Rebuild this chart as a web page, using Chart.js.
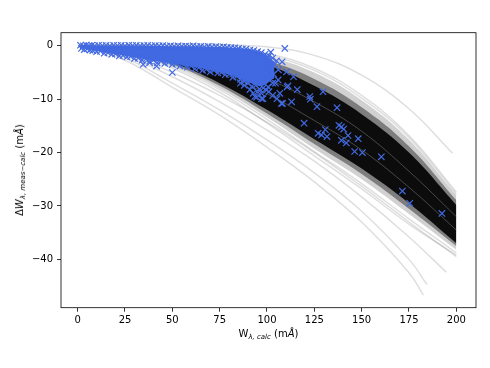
<!DOCTYPE html>
<html>
<head>
<meta charset="utf-8">
<script src="https://cdn.jsdelivr.net/npm/chart.js"></script>
<style>
  body { margin: 0; background: #ffffff; }
  #wrap { position: relative; width: 490px; height: 368px; font-family: 'DejaVu Sans', sans-serif; color: #000; }
  #chart { position: absolute; left: 0; top: 0; }
  .axlab { position: absolute; white-space: nowrap; font-size: 10px; line-height: 1; }
  .axlab sub { font-size: 7px; vertical-align: -2px; }
  #ylab { left: 21px; top: 170px; transform: translate(-50%, -50%) rotate(-90deg); }
  #xlab { left: 268.5px; top: 335px; transform: translate(-50%, -50%); }
</style>
</head>
<body>
<div id="wrap">
  <canvas id="chart" width="490" height="368"></canvas>
  <div class="axlab" id="ylab">Δ<i>W</i><sub><i>λ, meas−calc</i></sub> (m<i>Å</i>)</div>
  <div class="axlab" id="xlab">W<sub><i>λ, calc</i></sub> (m<i>Å</i>)</div>
</div>
<script>
// axes
const xTicks = [0, 25, 50, 75, 100, 125, 150, 175, 200];
const yTicks = [0, -10, -20, -30, -40];

// shared x positions for the curve bundle
const curveX = [1, 25, 50, 75, 100, 125, 150, 175, 200];

// envelope of the dense bundle of grey curves (outer fringe, middle, black core)
const bandOuterTop    = [0, -0.05, -0.25, -0.7, -2.0, -5.0, -10.2, -17.6, -28.0];
const bandMidTop      = [0, -0.1, -0.45, -1.2, -2.8, -6.2, -11.5, -18.8, -28.9];
const bandCoreTop     = [0, -0.2, -0.7, -1.7, -3.6, -7.5, -12.8, -20.0, -29.8];
const bandCoreBottom  = [0, -1.0, -3.2, -7.0, -12.0, -17.5, -23.0, -29.5, -37.0];
const bandMidBottom   = [0, -1.15, -3.5, -7.5, -12.7, -18.4, -24.0, -30.5, -37.5];
const bandOuterBottom = [0, -1.3, -3.8, -8.0, -13.4, -19.3, -25.0, -31.5, -38.2];

// single faint curves along the fringe
const fringeLines = [
  [0, -0.03, -0.15, -0.5, -1.5, -4.2, -9.3, -16.8, -27.4],
  [0, -0.05, -0.2, -0.6, -1.8, -4.6, -9.8, -17.2, -27.8],
  [0, -1.3, -3.9, -8.2, -13.8, -19.8, -25.8, -32.4, -38.8],
  [0, -1.4, -4.2, -8.7, -14.5, -20.6, -26.8, -33.4, -39.2]
];
// lighter streaks seen inside the black core
const streakLines = [
  [0, -0.4, -1.4, -3.2, -6.2, -10.5, -16.0, -23.5, -32.0],
  [0, -0.7, -2.3, -5.0, -9.0, -14.0, -19.5, -26.5, -34.5]
];

// outlying curves
const upperOutlierX = [1, 25, 50, 75, 100, 125, 150, 175, 198];
const upperOutlierY = [0, 0.1, 0.2, 0.2, -0.2, -1.8, -5.5, -11.8, -20.1];
const lowOutlier1X = [1, 25, 50, 75, 100, 125, 150, 175, 182.6];
const lowOutlier1Y = [0, -2.7, -7.8, -13.0, -19.0, -25.5, -33.0, -42.5, -46.7];
const lowOutlier2X = [1, 25, 50, 75, 100, 125, 150, 175, 184.5];
const lowOutlier2Y = [0, -2.3, -7.0, -12.0, -17.6, -23.8, -31.0, -40.0, -44.7];
const lowOutlier3X = [1, 25, 50, 75, 100, 125, 150, 175, 194.7];
const lowOutlier3Y = [0, -1.9, -5.8, -10.5, -15.8, -21.6, -28.3, -35.8, -42.4];
const lowOutlier4X = [1, 25, 50, 75, 100, 125, 150, 175, 200];
const lowOutlier4Y = [0, -1.6, -5.0, -9.3, -14.3, -20.0, -26.3, -33.0, -39.5];

// solid cloud of measured points near zero
const blobX       = [1.5, 10, 20, 30, 40, 50, 60, 70, 80, 90, 97, 104];
const blobTopY    = [0.05, 0.05, 0.05, 0.05, 0, -0.1, -0.1, -0.15, -0.3, -0.6, -1.2, -3.0];
const blobBottomY = [-0.4, -1.0, -1.6, -2.2, -2.8, -3.3, -3.9, -4.6, -5.4, -6.8, -7.6, -6.0];

// measured points (x markers)
const blueTopEdge = [
  [1.5,0.1],[3,0],[4.5,0.15],[6,0.05],[7.5,0.1],[9,0],[11,0.1],[13,0.05],[15,0.1],[17,0],
  [19,0.1],[21,0.05],[23,0.1],[25,0],[27,0.1],[29,0.05],[31,0.1],[33,0],[35,0.05],[37,0.1],
  [39,0],[41,0.05],[43,0],[45,0.05],[47,-0.05],[49,0],[51,-0.1],[53,0],[55,-0.1],[57,-0.05],
  [59,-0.1],[61,0],[63,-0.15],[65,-0.1],[67,-0.2],[69,-0.1],[71,-0.2],[73,-0.15],[75,-0.25],
  [77,-0.2],[79,-0.3],[81,-0.35],[83,-0.4],[85,-0.5],[87,-0.6],[89,-0.6],[91,-0.8],[93,-0.9],
  [95,-1.1],[97,-1.3],[99,-1.6],[101,-1.9],[103,-2.3]
];
const blueBottomEdge = [
  [2,-0.5],[3.5,-0.7],[5,-0.6],[6.5,-0.8],[8,-0.9],[10,-1.1],[12,-1.0],[14,-1.4],[16,-1.3],
  [18,-1.6],[20,-1.5],[22,-1.9],[24,-1.8],[26,-2.1],[28,-2.0],[30,-2.4],[32,-2.3],[34,-2.7],
  [36,-2.5],[38,-2.9],[40,-2.7],[42,-3.2],[44,-2.9],[46,-3.3],[48,-3.1],[50,-3.5],[52,-3.3],
  [54,-3.8],[56,-3.6],[58,-4.0],[60,-3.8],[62,-4.3],[64,-4.1],[66,-4.6],[68,-4.4],[70,-4.9],
  [72,-4.6],[74,-5.1],[76,-5.0],[78,-5.4],[80,-5.3],[82,-5.9],[84,-5.7],[86,-6.3],[88,-6.6],
  [90,-7.0],[92,-7.6],[94,-7.4],[96,-8.1],[98,-7.9]
];
const blueScatter = [
  [34.6,-3.5],[38,-3.2],[41.7,-3.8],[50,-5.0],
  [86,-7.0],[88,-7.4],[91,-8.2],[95,-8.6],[101,-8.6],[103,-9.3],[104.5,-7.0],[105,-2.8],
  [102,-1.2],[100.5,-2.6],[99,-3.4],[101.5,-4.2],[103.5,-5.3],
  [92.7,-8.9],[93.6,-9.5],[94.5,-9.6],[97.1,-8.9],[97.1,-9.9],[97.9,-9.9],[99.7,-8.3],
  [100.6,-7.7],[96,-6.5],[100,-6.0],[98,-4.0],[102,-5.5],[103,-7.0],[104,-3.5],[106,-4.5],
  [108,-3.0],[105.9,-6.4],[110.6,-7.7],[106.8,-8.9],[105.3,-9.9],[107.6,-10.8],[108.2,-10.8],
  [110.3,-4.9],[111.1,-7.5],[109.4,-0.5],[114,-5.8],[116,-8.2],[113,-10.5],
  [122.6,-9.5],[122.9,-10.0],[129.6,-8.6],[126.4,-11.4],[137.0,-11.6],[119.6,-14.5],
  [130.8,-15.7],[138.0,-14.9],[139.3,-15.2],[140.5,-15.6],[127.0,-16.4],[128.8,-16.7],
  [131.7,-17.0],[142.8,-16.8],[139.3,-17.7],[141.9,-18.2],[148.2,-17.4],[146.3,-19.8],
  [150.4,-20.0],[160.4,-20.8],[171.5,-27.2],[175.4,-29.5],[192.4,-31.4]
];

function pts(xs, ys) {
  return xs.map((x, i) => ({ x: x, y: ys[i] }));
}
function pairs(list) {
  return list.map(p => ({ x: p[0], y: p[1] }));
}

const lineColor = 'rgba(0,0,0,0.13)';
const datasets = [];

// blue x markers on top of everything
datasets.push({
  data: pairs(blueTopEdge.concat(blueBottomEdge, blueScatter)),
  showLine: false,
  pointStyle: 'crossRot',
  pointRadius: 4.5,
  pointBorderColor: '#4169E1',
  pointBackgroundColor: '#4169E1',
  pointBorderWidth: 1.2,
  order: 0
});

// filled core of the point cloud
datasets.push({ data: pts(blobX, blobTopY), fill: '+1', backgroundColor: '#4169E1',
  borderColor: 'transparent', borderWidth: 0, pointRadius: 0, tension: 0.3, order: 1 });
datasets.push({ data: pts(blobX, blobBottomY), fill: false,
  borderColor: 'transparent', borderWidth: 0, pointRadius: 0, tension: 0.3, order: 1 });

// streaks inside the black band
streakLines.forEach(ys => datasets.push({ data: pts(curveX, ys), borderColor: 'rgba(120,120,120,0.55)',
  borderWidth: 1, pointRadius: 0, fill: false, tension: 0.4, order: 2 }));

// band layers
function band(top, bottom, color, order) {
  const i = datasets.length;
  datasets.push({ data: pts(curveX, top), fill: i + 1, backgroundColor: color, borderColor: 'transparent',
    borderWidth: 0, pointRadius: 0, tension: 0.4, order: order });
  datasets.push({ data: pts(curveX, bottom), fill: false, borderColor: 'transparent',
    borderWidth: 0, pointRadius: 0, tension: 0.4, order: order });
}
band(bandCoreTop, bandCoreBottom, 'rgba(0,0,0,0.9)', 3);
band(bandMidTop, bandMidBottom, 'rgba(0,0,0,0.4)', 4);
band(bandOuterTop, bandOuterBottom, 'rgba(0,0,0,0.18)', 5);

// single curves
function curve(xs, ys) {
  datasets.push({ data: pts(xs, ys), borderColor: lineColor, borderWidth: 1.5, pointRadius: 0,
    fill: false, tension: 0.4, order: 6 });
}
fringeLines.forEach(ys => curve(curveX, ys));
curve(upperOutlierX, upperOutlierY);
curve(lowOutlier1X, lowOutlier1Y);
curve(lowOutlier2X, lowOutlier2Y);
curve(lowOutlier3X, lowOutlier3Y);
curve(lowOutlier4X, lowOutlier4Y);

// the four spines, drawn over the data like matplotlib does
const frame = {
  id: 'frame',
  afterDatasetsDraw(chart) {
    const a = chart.chartArea, ctx = chart.ctx;
    ctx.save();
    ctx.strokeStyle = '#000';
    ctx.lineWidth = 0.8;
    ctx.strokeRect(a.left, a.top, a.right - a.left, a.bottom - a.top);
    ctx.restore();
  }
};

const tickFont = { family: 'DejaVu Sans', size: 10 };
const minus = v => String(v).replace('-', '\u2212');

new Chart(document.getElementById('chart'), {
  type: 'line',
  data: { datasets: datasets },
  plugins: [frame],
  options: {
    responsive: false,
    animation: false,
    events: [],
    layout: { padding: { left: 0, top: 32.7, right: 14, bottom: 0 } },
    plugins: { legend: { display: false }, tooltip: { enabled: false } },
    scales: {
      x: {
        type: 'linear',
        min: -8.8,
        max: 210.4,
        afterBuildTicks: s => { s.ticks = xTicks.map(v => ({ value: v })); },
        afterFit: s => { s.height = 60.3; },
        grid: { drawOnChartArea: false, drawTicks: true, tickLength: 4, tickColor: '#000', tickWidth: 0.8 },
        border: { display: false },
        ticks: { color: '#000', font: tickFont, padding: 3, maxRotation: 0, autoSkip: false, callback: minus }
      },
      y: {
        type: 'linear',
        min: -49.05,
        max: 2.45,
        afterBuildTicks: s => { s.ticks = yTicks.map(v => ({ value: v })); },
        afterFit: s => { s.width = 61; },
        grid: { drawOnChartArea: false, drawTicks: true, tickLength: 4, tickColor: '#000', tickWidth: 0.8 },
        border: { display: false },
        ticks: { color: '#000', font: tickFont, padding: 4, autoSkip: false, callback: minus }
      }
    }
  }
});
</script>
</body>
</html>
